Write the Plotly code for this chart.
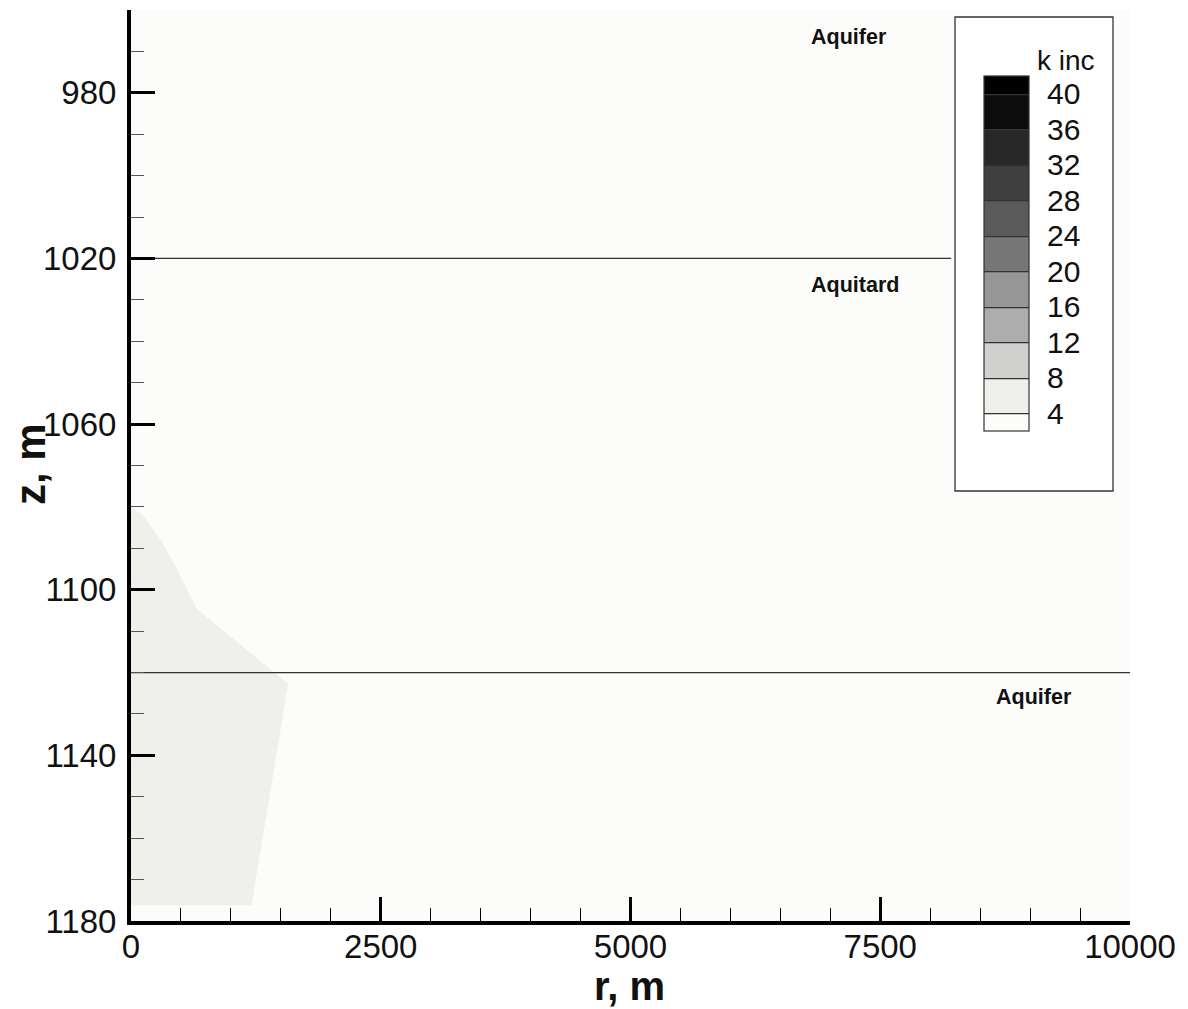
import plotly.graph_objects as go

# ---- data ----
# boundary of the 4-8 "k inc" zone near the well (r in m, z in m)
zone_r = [0, 120, 300, 457, 657, 1023, 1423, 1573, 1207, 0]
zone_z = [1080, 1082, 1088, 1094.9, 1104.6, 1111.8, 1119.8, 1122.7, 1176.2, 1176.2]

# layer boundaries (depth, m) and how far each drawn line runs in r
layer_tops = [1020, 1120]
layer_r_start = [0, 0]
layer_r_end = [8210, 10000]
r_extent = [0, 10000]

# legend contour levels and band colours (lowest band first)
k_levels = [4, 8, 12, 16, 20, 24, 28, 32, 36, 40]
band_colors = ["#fcfcfa", "#eff0ec", "#d0d0ce", "#adadad", "#969696",
               "#777777", "#5a5a5a", "#3f3f40", "#282828", "#0c0c0c", "#000000"]

# labels
layer_names = ["Aquifer", "Aquitard", "Aquifer"]
label_r = [7190, 7250, 9040]
label_z = [966.5, 1026.3, 1126]

x_ticks = [0, 2500, 5000, 7500, 10000]
x_ticktext = ["0", "2500", "5000", "7500", "10000"]
y_ticks = [980, 1020, 1060, 1100, 1140, 1180]

FONT = "Liberation Sans, Arial, sans-serif"

# figure geometry (page has an 8 px body margin)
W, H = 1180, 1001
ML, MR, MT, MB = 123, 58, 2, 88
PW, PH = W - ML - MR, H - MT - MB


def px(xp):  # page pixel x -> paper x
    return (xp - 8 - ML) / PW


def py(yp):  # page pixel y -> paper y
    return (MT + PH - (yp - 8)) / PH


fig = go.Figure()

# colour legend (contour of the legend levels, lying outside the visible depth range)
n = len(band_colors)
colorscale = [[i / (n - 1), c] for i, c in enumerate(band_colors)]
fig.add_trace(go.Contour(
    z=[k_levels, k_levels],
    contours=dict(start=k_levels[0], end=k_levels[-1], size=k_levels[1] - k_levels[0],
                  coloring="fill", showlines=True),
    line=dict(color="#333333", width=1.2),
    colorscale=colorscale,
    hoverinfo="skip",
    colorbar=dict(
        x=px(984), xanchor="left", xpad=0,
        y=py(76), yanchor="top", ypad=0,
        len=355, lenmode="pixels", thickness=45, thicknessmode="pixels",
        outlinecolor="#333333", outlinewidth=1.2,
        bgcolor="rgba(0,0,0,0)", borderwidth=0,
        tickvals=k_levels, ticktext=[str(v) for v in k_levels],
        ticks="outside", ticklen=12, tickcolor="rgba(0,0,0,0)",
        tickfont=dict(family=FONT, size=30, color="#111111"),
    ),
))

# zone with k inc 4-8
fig.add_trace(go.Scatter(
    x=zone_r, y=zone_z, mode="lines", fill="toself",
    fillcolor=band_colors[1], line=dict(width=0, color=band_colors[1]),
    hoverinfo="skip", showlegend=False,
))

# layer boundaries
for zt, r0, r1 in zip(layer_tops, layer_r_start, layer_r_end):
    fig.add_trace(go.Scatter(
        x=[r0, r1], y=[zt, zt], mode="lines",
        line=dict(color="#333333", width=1.3),
        hoverinfo="skip", showlegend=False,
    ))

# legend box
fig.add_shape(type="rect", xref="paper", yref="paper",
              x0=px(955), x1=px(1113), y0=py(491), y1=py(17),
              fillcolor="white", line=dict(color="#333333", width=1.3), layer="above")

annotations = []
for name, r, z in zip(layer_names, label_r, label_z):
    annotations.append(dict(x=r, y=z, xref="x", yref="y", text=f"<b>{name}</b>",
                            showarrow=False, xanchor="center", yanchor="middle",
                            font=dict(family=FONT, size=21.5, color="#111111")))
annotations.append(dict(x=px(1066), y=py(60), xref="paper", yref="paper",
                        text="k inc", showarrow=False, xanchor="center", yanchor="middle",
                        font=dict(family=FONT, size=28, color="#111111")))
annotations.append(dict(x=px(629), y=py(986), xref="paper", yref="paper",
                        text="<b>r, m</b>", showarrow=False, xanchor="center", yanchor="middle",
                        font=dict(family=FONT, size=40, color="#111111")))
annotations.append(dict(x=px(30), y=py(464), xref="paper", yref="paper",
                        text="<b>z, m</b>", showarrow=False, textangle=-90,
                        xanchor="center", yanchor="middle",
                        font=dict(family=FONT, size=42, color="#111111")))

fig.update_layout(
    width=W, height=H,
    margin=dict(l=ML, r=MR, t=MT, b=MB),
    paper_bgcolor="white", plot_bgcolor="#fcfcfa",
    showlegend=False,
    annotations=annotations,
    font=dict(family=FONT, color="#111111"),
)

fig.update_xaxes(
    range=r_extent, tickvals=x_ticks, ticktext=x_ticktext,
    ticks="inside", ticklen=24, tickwidth=3, tickcolor="black",
    showline=True, linewidth=4, linecolor="black", mirror=False,
    showgrid=False, zeroline=False, ticklabelstandoff=-7,
    tickfont=dict(family=FONT, size=33, color="#111111"),
    minor=dict(dtick=500, tick0=0, ticks="inside", ticklen=13, tickwidth=1,
               tickcolor="black", showgrid=False),
)
fig.update_yaxes(
    range=[1180, 960], tickvals=y_ticks,
    ticks="inside", ticklen=24, tickwidth=3, tickcolor="black",
    showline=True, linewidth=4, linecolor="black", mirror=False,
    showgrid=False, zeroline=False, ticklabelstandoff=4,
    tickfont=dict(family=FONT, size=33, color="#111111"),
    minor=dict(dtick=10, tick0=960, ticks="inside", ticklen=13, tickwidth=1,
               tickcolor="#555555", showgrid=False),
)

fig.write_html("out.html")
